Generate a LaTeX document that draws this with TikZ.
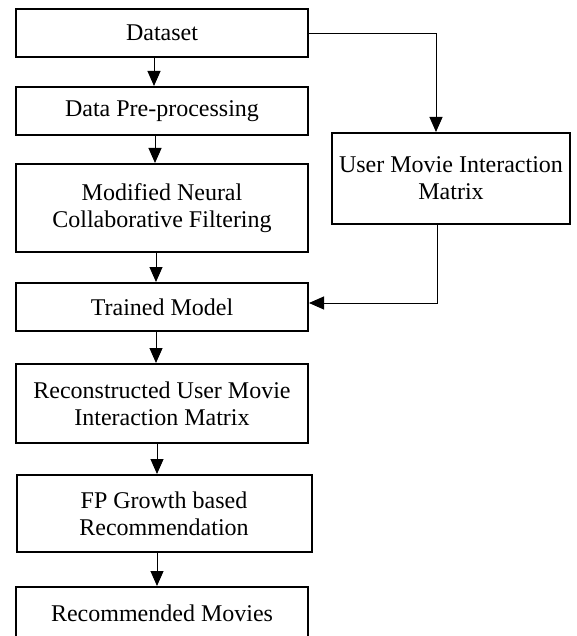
\documentclass[tikz,border=0pt]{standalone}
\usepackage{fontspec}
\setmainfont{Liberation Serif}
\usetikzlibrary{arrows.meta}
\begin{document}
\begin{tikzpicture}[x=1pt,y=-1pt,
  box/.style={draw,line width=2pt,rectangle,inner sep=0pt,align=center,
    font=\fontsize{24}{27}\selectfont,minimum width=292pt},
  conn/.style={line width=1pt,-{Triangle[length=15pt,width=13pt]}}]
\useasboundingbox (0,0) rectangle (576,636);
\clip (0,0) rectangle (576,636);
\node[box,minimum height=48pt] (dataset) at (162,33) {Dataset};
\node[box,minimum height=48pt] (pre) at (162,111) {Data Pre-processing};
\node[box,minimum height=88pt] (ncf) at (162,208) {Modified Neural\\Collaborative Filtering};
\node[box,minimum height=48pt] (trained) at (162,307) {Trained Model};
\node[box,minimum height=79pt] (recon) at (162,403.5) {Reconstructed User Movie\\Interaction Matrix};
\node[box,minimum height=77pt,minimum width=295pt] (fp) at (164,513.5) {FP Growth based\\Recommendation};
\node[box,minimum height=52pt] (rec) at (162,613) {Recommended Movies};
\node[box,minimum height=91pt,minimum width=238pt] (umim) at (451,178.5) {User Movie Interaction\\Matrix};
\draw[conn] ([xshift=-8pt]dataset.south) -- ([xshift=-8pt]pre.north);
\draw[conn] ([xshift=-7pt]pre.south) -- ([xshift=-7pt]ncf.north);
\draw[conn] ([xshift=-6pt]ncf.south) -- ([xshift=-6pt]trained.north);
\draw[conn] ([xshift=-6pt]trained.south) -- ([xshift=-6pt]recon.north);
\draw[conn] ([xshift=-5pt]recon.south) -- ([xshift=-7pt]fp.north);
\draw[conn] ([xshift=-7pt]fp.south) -- ([xshift=-5pt]rec.north);
\draw[conn] ([yshift=-1pt]dataset.east) -| ([xshift=-15pt]umim.north);
\draw[conn] ([xshift=-14pt]umim.south) |- ([yshift=4pt]trained.east);
\end{tikzpicture}
\end{document}
